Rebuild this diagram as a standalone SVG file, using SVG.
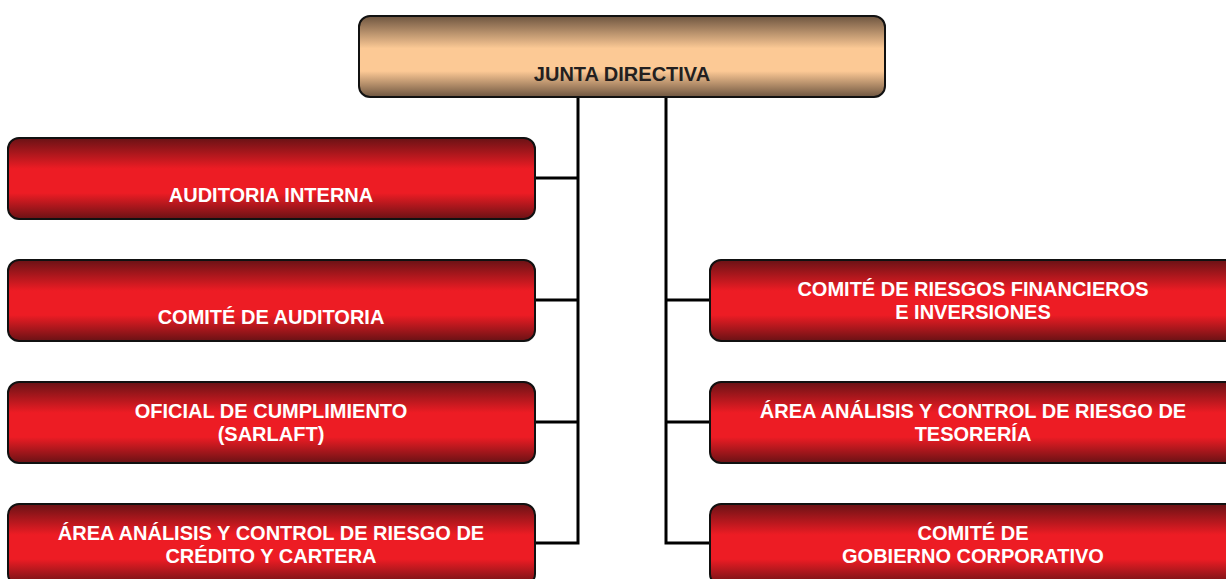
<svg xmlns="http://www.w3.org/2000/svg" width="1226" height="579" viewBox="0 0 1226 579">
<defs>
<linearGradient id="red" x1="0" y1="0" x2="0" y2="1">
<stop offset="0" stop-color="#6a1215"/>
<stop offset="0.38" stop-color="#ed1c24"/>
<stop offset="0.68" stop-color="#ed1c24"/>
<stop offset="1" stop-color="#6a1215"/>
</linearGradient>
<linearGradient id="tan" x1="0" y1="0" x2="0" y2="1">
<stop offset="0" stop-color="#6e5540"/>
<stop offset="0.4" stop-color="#fcc995"/>
<stop offset="0.68" stop-color="#fcc995"/>
<stop offset="1" stop-color="#6e5540"/>
</linearGradient>
</defs>
<style>
.box{stroke:#111;stroke-width:2}
.r{fill:url(#red)}
.t{fill:url(#tan)}
text{font-family:"Liberation Sans",Arial,sans-serif;font-weight:bold;font-size:20px;text-anchor:middle}
.w{fill:#fff}
.d{fill:#231f20}
.ln{stroke:#000;stroke-width:3;fill:none}
</style>
<g id="connectors">
<polyline class="ln" points="578,97 578,543 535,543"/>
<line class="ln" x1="535" y1="178" x2="578" y2="178"/>
<line class="ln" x1="535" y1="300" x2="578" y2="300"/>
<line class="ln" x1="535" y1="422" x2="578" y2="422"/>
<polyline class="ln" points="666,97 666,543 710,543"/>
<line class="ln" x1="666" y1="300" x2="710" y2="300"/>
<line class="ln" x1="666" y1="422" x2="710" y2="422"/>
</g>
<g id="junta">
<rect class="box t" x="359" y="16" width="526" height="81" rx="11"/>
<text class="d" x="622" y="81">JUNTA DIRECTIVA</text>
</g>
<g id="auditoria-interna">
<rect class="box r" x="8" y="138" width="527" height="81" rx="11"/>
<text class="w" x="271" y="202">AUDITORIA INTERNA</text>
</g>
<g id="comite-auditoria">
<rect class="box r" x="8" y="260" width="527" height="81" rx="11"/>
<text class="w" x="271" y="324">COMITÉ DE AUDITORIA</text>
</g>
<g id="oficial-cumplimiento">
<rect class="box r" x="8" y="382" width="527" height="81" rx="11"/>
<text class="w" x="271" y="418">OFICIAL DE CUMPLIMIENTO</text>
<text class="w" x="271" y="441">(SARLAFT)</text>
</g>
<g id="area-credito">
<rect class="box r" x="8" y="504" width="527" height="81" rx="11"/>
<text class="w" x="271" y="540">ÁREA ANÁLISIS Y CONTROL DE RIESGO DE</text>
<text class="w" x="271" y="563">CRÉDITO Y CARTERA</text>
</g>
<g id="comite-riesgos">
<rect class="box r" x="710" y="260" width="527" height="81" rx="11"/>
<text class="w" x="973" y="296">COMITÉ DE RIESGOS FINANCIEROS</text>
<text class="w" x="973" y="319">E INVERSIONES</text>
</g>
<g id="area-tesoreria">
<rect class="box r" x="710" y="382" width="527" height="81" rx="11"/>
<text class="w" x="973" y="418">ÁREA ANÁLISIS Y CONTROL DE RIESGO DE</text>
<text class="w" x="973" y="441">TESORERÍA</text>
</g>
<g id="comite-gobierno">
<rect class="box r" x="710" y="504" width="527" height="81" rx="11"/>
<text class="w" x="973" y="540">COMITÉ DE</text>
<text class="w" x="973" y="563">GOBIERNO CORPORATIVO</text>
</g>
</svg>
